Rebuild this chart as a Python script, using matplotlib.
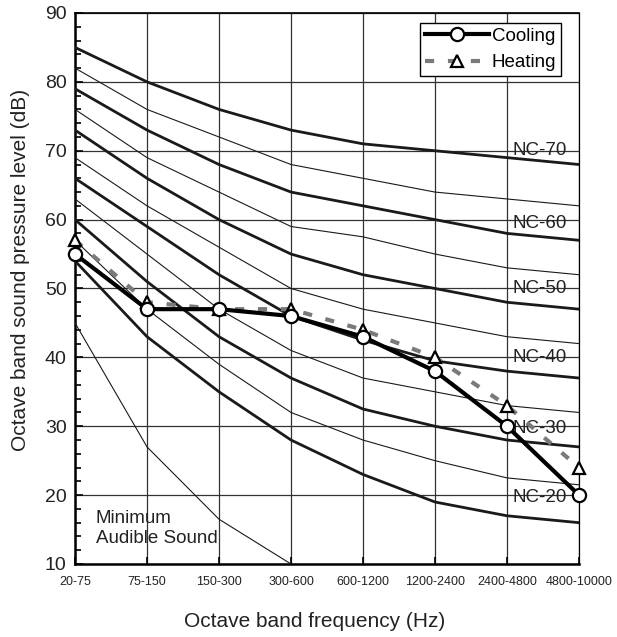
import matplotlib
matplotlib.use("Agg")
import matplotlib.pyplot as plt
from matplotlib.ticker import MultipleLocator

plt.rcParams["font.family"] = ["Liberation Sans", "DejaVu Sans"]

# Octave bands
bands = ["20-75", "75-150", "150-300", "300-600", "600-1200",
         "1200-2400", "2400-4800", "4800-10000"]

# NC curves (dB)
nc70 = [85, 80, 76, 73, 71, 70, 69, 68]
nc65 = [82, 76, 72, 68, 66, 64, 63, 62]
nc60 = [79, 73, 68, 64, 62, 60, 58, 57]
nc55 = [76, 69, 64, 59, 57.5, 55, 53, 52]
nc50 = [73, 66, 60, 55, 52, 50, 48, 47]
nc45 = [69, 62, 56, 50, 47, 45, 43, 42]
nc40 = [66, 59, 52, 46, 42.5, 39.5, 38, 37]
nc35 = [63, 55, 47, 41, 37, 35, 33, 32]
nc30 = [60, 51, 43, 37, 32.5, 30, 28, 27]
nc25 = [57, 47, 39, 32, 28, 25, 22.5, 21.5]
nc20 = [54, 43, 35, 28, 23, 19, 17, 16]
min_audible = [45, 27, 16.5, 10]

# measured spectra
cooling = [55, 47, 47, 46, 43, 38, 30, 20]
heating = [57, 48, 47, 47, 44, 40, 33, 24]

nc_labels = ["NC-70", "NC-60", "NC-50", "NC-40", "NC-30", "NC-20"]
nc_label_y = [70, 59.5, 50, 40, 29.7, 19.6]

x = list(range(len(bands)))

fig = plt.figure(figsize=(6.17, 6.37), dpi=100)
ax = fig.add_axes([0.1216, 0.1146, 0.8168, 0.865])

thick = [nc70, nc60, nc50, nc40, nc30, nc20]
thin = [nc65, nc55, nc45, nc35, nc25]
for curve in thick:
    ax.plot(x, curve, color="#1a1a1a", lw=2.0, zorder=3)
for curve in thin:
    ax.plot(x, curve, color="#1a1a1a", lw=0.8, zorder=3)
ax.plot(x[:len(min_audible)], min_audible, color="#1a1a1a", lw=0.8, zorder=3)

ax.plot(x, heating, color="#7a7a7a", lw=3, dashes=(2.2, 3.3),
        marker="^", ms=9, mfc="white", mec="black", mew=1.6,
        label="Heating", zorder=5, clip_on=False)
ax.plot(x, cooling, color="black", lw=3, marker="o", ms=9.5,
        mfc="white", mec="black", mew=1.6, label="Cooling", zorder=6,
        clip_on=False)

for lab, yy in zip(nc_labels, nc_label_y):
    ax.text(6.08, yy, lab, fontsize=13.5, ha="left", va="center",
            color="#222222", zorder=4)

ax.text(0.29, 15.2, "Minimum\nAudible Sound", fontsize=13.5, ha="left",
        va="center", linespacing=1.25, color="#222222")

ax.set_xlim(0, 7)
ax.set_ylim(10, 90)
ax.set_xticks(x)
ax.set_xticklabels(bands, fontsize=9)
ax.yaxis.set_major_locator(MultipleLocator(10))
ax.yaxis.set_minor_locator(MultipleLocator(2))
ax.tick_params(axis="y", which="major", direction="in", length=6,
               width=1.2, labelsize=14, pad=6, labelcolor="#222222")
ax.tick_params(axis="y", which="minor", direction="in", length=4, width=1.2)
ax.tick_params(axis="x", direction="in", length=5, width=1.2, pad=9,
               labelcolor="#222222")
ax.grid(True, which="major", color="#333333", lw=0.9)

ax.spines["left"].set_linewidth(1.8)
ax.spines["bottom"].set_linewidth(1.8)
ax.spines["top"].set_linewidth(1.2)
ax.spines["right"].set_linewidth(0.9)

ax.set_ylabel("Octave band sound pressure level (dB)", fontsize=15,
              color="#222222")
ax.yaxis.set_label_coords(-0.09, 0.534)
ax.set_xlabel("Octave band frequency (Hz)", fontsize=15, color="#222222")
ax.xaxis.set_label_coords(0.476, -0.087)

handles, labels = ax.get_legend_handles_labels()
leg = ax.legend(handles[::-1], labels[::-1], loc="upper right",
                bbox_to_anchor=(0.964, 0.982), fontsize=13.5,
                fancybox=False, framealpha=1, edgecolor="black",
                handlelength=3.4, handletextpad=0.15, borderpad=0.25,
                labelspacing=0.5, borderaxespad=0)
leg.get_frame().set_linewidth(1.0)

fig.savefig("out.png", dpi=100)
